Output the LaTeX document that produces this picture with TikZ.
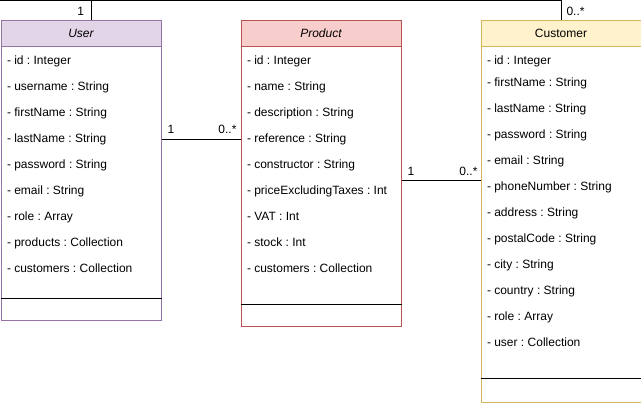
\documentclass[tikz,border=0pt]{standalone}
\usepackage{fontspec}
\setmainfont{Liberation Sans}
\usetikzlibrary{calc}
\frenchspacing
\definecolor{ufill}{HTML}{E1D5E7}
\definecolor{uline}{HTML}{9673A6}
\definecolor{pfill}{HTML}{F8CECC}
\definecolor{pline}{HTML}{B85450}
\definecolor{cfill}{HTML}{FFF2CC}
\definecolor{cline}{HTML}{D6B656}
\newcommand{\txtfont}{\fontsize{12}{14}\selectfont\frenchspacing}
\begin{document}
\begin{tikzpicture}[x=1pt,y=-1pt,line width=1pt,
  box/.style={draw,minimum width=160pt,inner sep=0pt,anchor=north west,fill=white},
  hdr/.style={draw,minimum width=160pt,minimum height=26pt,inner sep=0pt,anchor=north west,font=\txtfont},
  attr/.style={anchor=base west,inner sep=0pt,font=\txtfont},
  multw/.style={anchor=base west,inner sep=0pt,font=\txtfont},
  multe/.style={anchor=base east,inner sep=0pt,font=\txtfont},
  sep/.style={draw=black,line width=1pt}]
\useasboundingbox (0,0) rectangle (641,403);

% User
\node[box,draw=uline,minimum height=300pt] (user) at (0.5,20) {};
\node[hdr,fill=ufill,draw=uline] (userh) at (0.5,20) {\itshape User};
\draw[sep] ($(user.south west)+(0,-22.5)$) -- ($(user.south east)+(0,-22.5)$);
\foreach \t [count=\i from 0] in {- id : Integer,- username : String,- firstName : String,- lastName : String,- password : String,- email : String,- role : Array,- products : Collection,- customers : Collection}
  \node[attr] (ua\i) at (6.5,64.3+26*\i) {\t};

% Product
\node[box,draw=pline,minimum height=306pt] (product) at (240.5,20) {};
\node[hdr,fill=pfill,draw=pline] (producth) at (240.5,20) {\itshape Product};
\draw[sep] ($(product.south west)+(0,-22.5)$) -- ($(product.south east)+(0,-22.5)$);
\foreach \t [count=\i from 0] in {- id : Integer,- name : String,- description : String,- reference : String,- constructor : String,- priceExcludingTaxes : Int,- VAT : Int,- stock : Int,- customers : Collection}
  \node[attr] (pa\i) at (246.5,64.3+26*\i) {\t};

% Customer
\node[box,draw=cline,minimum height=382pt] (customer) at (480.5,20) {};
\node[hdr,fill=cfill,draw=cline] (customerh) at (480.5,20) {Customer};
\draw[sep] ($(customer.south west)+(0,-24)$) -- ($(customer.south east)+(0,-24)$);
\node[attr] (ca0) at (486.5,64.3) {- id : Integer};
\foreach \t [count=\i from 1] in {- firstName : String,- lastName : String,- password : String,- email : String,- phoneNumber : String,- address : String,- postalCode : String,- city : String,- country : String,- role : Array,- user : Collection}
  \node[attr] (ca\i) at (486.5,60.3+26*\i) {\t};

% Connectors
\draw ($(user.north)+(10,0)$) |- (0,0.5) -| (customer.north);
\coordinate (m1) at (0,139.5);
\coordinate (m2) at (0,180.5);
\draw (user.east |- m1) -- (product.west |- m1);
\draw (product.east |- m2) -- (customer.west |- m2);

% Multiplicities
\node[multw] (l1) at (77,15.5) {1};
\node[multw] (l2) at (566,15.5) {0..*};
\node[multw] (l3) at (167,134) {1};
\node[multe] (l4) at (237,134) {0..*};
\node[multw] (l5) at (407,176) {1};
\node[multe] (l6) at (478,176) {0..*};
\end{tikzpicture}
\end{document}
